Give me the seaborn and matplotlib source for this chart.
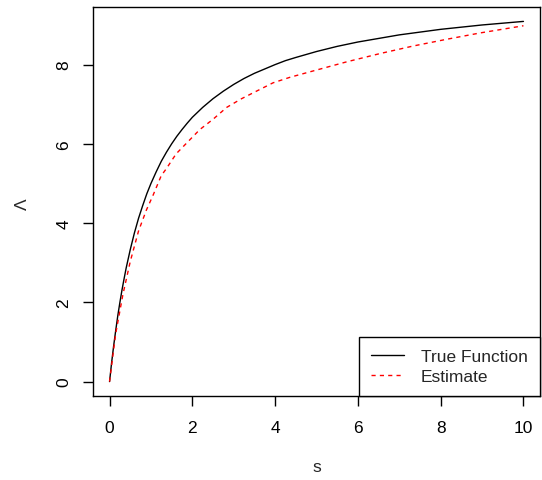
import matplotlib
matplotlib.use("Agg")
import matplotlib.pyplot as plt
from matplotlib.lines import Line2D
import seaborn as sns
import pandas as pd

# True cumulative function Lambda(s)
true_s = [0, 0.05, 0.1, 0.15, 0.2, 0.25, 0.3, 0.35, 0.4, 0.5, 0.6, 0.7, 0.8, 0.9,
          1.0, 1.125, 1.25, 1.375, 1.5, 1.625, 1.75, 1.875, 2.0, 2.25, 2.5, 2.75,
          3.0, 3.25, 3.5, 3.75, 4.0, 4.25, 4.5, 5.0, 5.5, 6.0, 7.0, 8.0, 9.0, 10.0]
true_L = [0, 0.48, 0.91, 1.30, 1.67, 2.00, 2.31, 2.59, 2.86, 3.33, 3.75, 4.12,
          4.44, 4.74, 5.00, 5.29, 5.56, 5.79, 6.00, 6.19, 6.36, 6.52, 6.67, 6.92,
          7.14, 7.33, 7.50, 7.65, 7.78, 7.89, 8.00, 8.10, 8.18, 8.33, 8.46, 8.57,
          8.75, 8.89, 9.00, 9.09]

# Estimated cumulative function
est_s = [0, 0.145, 0.323, 0.5, 0.70, 0.89, 1.05, 1.25, 1.37, 1.61, 1.90, 2.18, 2.50,
         2.83, 3.19, 3.55, 3.95, 4.36, 4.92, 5.73, 6.54, 7.34, 8.15, 8.96, 10.0]
est_L = [0, 1.19, 2.20, 3.03, 3.80, 4.33, 4.70, 5.20, 5.37, 5.75, 6.06, 6.36, 6.62,
         6.92, 7.14, 7.33, 7.54, 7.68, 7.84, 8.07, 8.28, 8.47, 8.64, 8.80, 8.98]

x_ticks = [0, 2, 4, 6, 8, 10]
y_ticks = [0, 2, 4, 6, 8]
labels = ["True Function", "Estimate"]

df = pd.concat([
    pd.DataFrame({"s": true_s, "L": true_L, "curve": labels[0]}),
    pd.DataFrame({"s": est_s, "L": est_L, "curve": labels[1]}),
], ignore_index=True)

sns.set_style("ticks")
plt.rcParams["font.family"] = ["Liberation Sans", "DejaVu Sans"]
FS = 12.5

fig = plt.figure(figsize=(5.42, 4.81), dpi=100)
ax = fig.add_axes([93 / 542, 1 - 397 / 481, 447 / 542, 389 / 481])

sns.lineplot(data=df, x="s", y="L", hue="curve", style="curve",
             palette={labels[0]: "black", labels[1]: "#ff0000"},
             dashes={labels[0]: "", labels[1]: (3, 3)},
             linewidth=1.0, ax=ax, legend=False, sort=False, estimator=None)

xmin, xmax = min(true_s + est_s), max(true_s + est_s)
ymin, ymax = min(true_L + est_L), max(true_L + est_L)
ax.set_xlim(xmin - 0.04 * (xmax - xmin), xmax + 0.04 * (xmax - xmin))
ax.set_ylim(ymin - 0.04 * (ymax - ymin), ymax + 0.04 * (ymax - ymin))
ax.set_xticks(x_ticks)
ax.set_yticks(y_ticks)
ax.set_yticklabels([str(v) for v in y_ticks], rotation=90, va="center")

for sp in ax.spines.values():
    sp.set_visible(True)
    sp.set_color("black")
    sp.set_linewidth(1.0)

ax.tick_params(axis="both", direction="out", length=7, width=1.0, colors="black",
               labelsize=FS)
ax.tick_params(axis="x", pad=10.5)
ax.tick_params(axis="y", pad=8.5)

ax.set_xlabel("s", fontsize=FS)
ax.set_ylabel("Λ", fontsize=FS)
ax.xaxis.set_label_coords(0.5, -0.18)
ax.xaxis.label.set_va("center")
ax.yaxis.set_label_coords(-0.159, 0.496)
ax.yaxis.label.set_va("center")

handles = [Line2D([], [], color="black", lw=1.0),
           Line2D([], [], color="#ff0000", lw=1.0, dashes=(3, 3))]
leg = ax.legend(handles, labels, loc="lower right",
                borderaxespad=0, fancybox=False, framealpha=1, edgecolor="black",
                handlelength=1.85, handletextpad=1.0, labelspacing=0.25,
                borderpad=0.7, fontsize=FS)
leg.get_frame().set_linewidth(1.0)

fig.savefig("out.png", dpi=100)
